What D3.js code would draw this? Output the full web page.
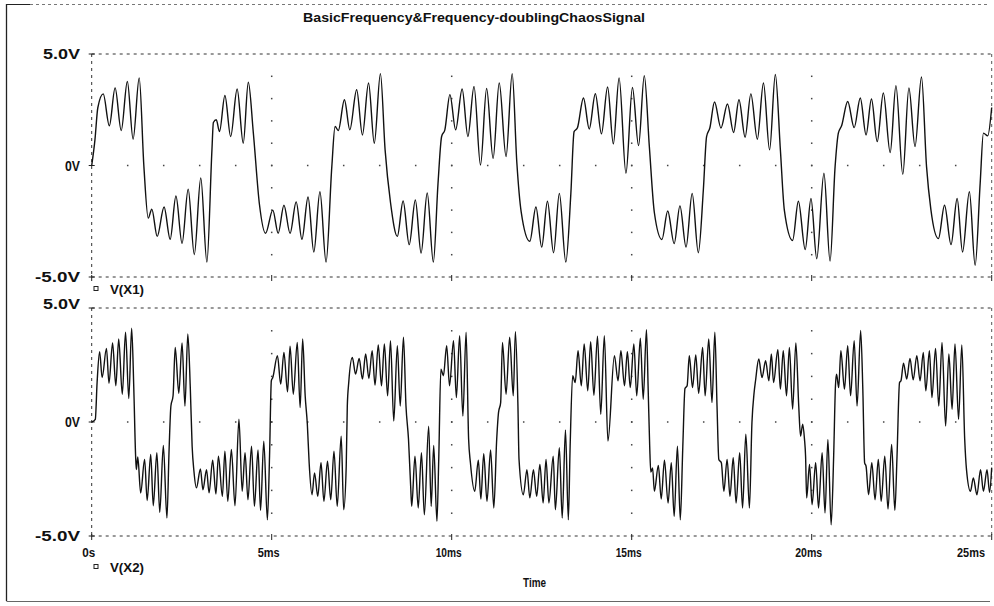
<!DOCTYPE html>
<html>
<head>
<meta charset="utf-8">
<script src="https://cdn.jsdelivr.net/npm/d3@7"></script>
<style>
  html, body { margin: 0; padding: 0; background: #fff; }
  svg { display: block; }
  text { font-family: "Liberation Sans Narrow", "Liberation Sans", "DejaVu Sans", sans-serif; fill: #111; }
</style>
</head>
<body>
<svg id="chart" width="994" height="606"></svg>
<script>
// ---------------- data ----------------
const titleText = "BasicFrequency&Frequency-doublingChaosSignal";
const xAxisTitle = "Time";
const xTicks = [0, 5, 10, 15, 20, 25];
const xTickLabels = ["0s", "5ms", "10ms", "15ms", "20ms", "25ms"];
const yTicks = [5, 0, -5];
const yTickLabels = ["5.0V", "0V", "-5.0V"];
const seriesNames = ["V(X1)", "V(X2)"];

// V(X1): [time ms, volts] — extremes
const x1Points = [
  [0.00,0.00],[0.09,1.15],[0.17,2.59],[0.32,3.21],[0.49,1.78],[0.65,3.48],[0.82,1.57],[0.99,3.77],
  [1.15,1.18],[1.32,3.93],[1.45,-0.05],[1.57,-2.36],[1.67,-1.96],[1.82,-3.18],[2.01,-1.86],[2.18,-3.31],
  [2.34,-1.37],[2.51,-3.49],[2.68,-1.06],[2.85,-3.99],[3.03,-0.56],[3.20,-4.33],[3.34,0.70],[3.38,1.93],
  [3.46,2.05],[3.55,1.52],[3.70,3.14],[3.86,1.30],[4.04,3.43],[4.21,1.00],[4.35,3.73],[4.49,1.46],
  [4.66,-1.75],[4.83,-3.04],[5.03,-2.00],[5.18,-3.04],[5.34,-1.78],[5.51,-3.04],[5.68,-1.63],[5.84,-3.31],
  [6.01,-1.41],[6.17,-3.88],[6.34,-1.18],[6.51,-4.33],[6.67,-0.05],[6.76,1.75],[6.85,1.57],[7.02,2.95],
  [7.17,1.60],[7.36,3.40],[7.52,1.37],[7.69,3.70],[7.85,1.00],[8.02,4.12],[8.15,0.70],[8.30,-1.66],
  [8.49,-3.18],[8.65,-1.59],[8.82,-3.55],[8.99,-1.55],[9.15,-3.93],[9.32,-1.23],[9.49,-4.33],[9.62,-0.80],
  [9.72,1.30],[9.81,1.60],[9.95,3.18],[10.11,1.60],[10.29,3.43],[10.45,1.30],[10.62,3.55],[10.80,0.02],
  [10.97,3.45],[11.15,0.32],[11.32,3.70],[11.51,0.40],[11.68,4.12],[11.81,0.11],[11.93,-2.08],[12.17,-3.40],
  [12.34,-1.86],[12.50,-3.66],[12.66,-1.60],[12.83,-3.91],[12.99,-1.25],[13.17,-4.33],[13.31,-1.25],[13.40,1.52],
  [13.49,1.68],[13.66,3.03],[13.82,1.64],[13.99,3.22],[14.16,1.42],[14.33,3.52],[14.49,0.97],[14.65,3.93],
  [14.84,-0.35],[15.02,3.50],[15.19,0.89],[15.35,4.03],[15.49,0.85],[15.63,-2.12],[15.84,-3.32],[16.00,-2.04],
  [16.18,-3.50],[16.34,-1.81],[16.51,-3.66],[16.68,-1.25],[16.85,-3.91],[16.99,-1.10],[17.08,1.30],[17.17,1.68],
  [17.30,2.85],[17.48,1.68],[17.66,2.76],[17.83,1.48],[17.98,2.95],[18.15,1.27],[18.31,3.21],[18.49,1.18],
  [18.66,3.70],[18.83,0.70],[18.99,4.08],[19.13,0.70],[19.24,-2.00],[19.47,-3.36],[19.63,-1.60],[19.82,-3.77],
  [19.98,-1.48],[20.14,-4.18],[20.34,-0.35],[20.51,-4.29],[20.65,-0.05],[20.74,1.45],[20.83,1.78],[21.00,2.87],
  [21.18,1.70],[21.35,3.03],[21.51,1.37],[21.66,2.98],[21.82,1.07],[21.99,3.25],[22.18,0.58],[22.34,3.58],
  [22.53,-0.40],[22.70,3.48],[22.87,0.85],[23.05,3.97],[23.19,-0.05],[23.31,-1.97],[23.52,-3.28],[23.69,-1.78],
  [23.87,-3.55],[24.04,-1.48],[24.19,-3.88],[24.38,-1.18],[24.54,-4.48],[24.68,-0.79],[24.77,1.45],[24.89,1.33],
  [25.00,2.60]
];

// V(X2): [time ms, volts] — extremes
const x2Points = [
  [0.00,0.00],[0.10,0.12],[0.15,1.73],[0.22,3.08],[0.29,1.95],[0.41,3.23],[0.48,1.70],[0.58,3.47],
  [0.67,1.59],[0.75,3.64],[0.85,1.22],[0.94,3.94],[1.03,1.03],[1.11,4.11],[1.17,1.44],[1.22,-1.50],
  [1.24,-2.09],[1.28,-1.53],[1.36,-3.11],[1.47,-1.64],[1.54,-3.44],[1.64,-1.42],[1.71,-3.67],[1.81,-1.35],
  [1.89,-3.96],[1.99,-1.03],[2.09,-4.21],[2.15,-1.20],[2.20,0.70],[2.26,1.15],[2.32,3.27],[2.42,1.26],
  [2.51,3.47],[2.59,0.70],[2.67,3.86],[2.74,1.44],[2.79,-1.06],[2.84,-2.16],[2.91,-2.89],[3.02,-2.06],
  [3.09,-2.97],[3.19,-2.09],[3.26,-3.11],[3.36,-1.67],[3.45,-3.16],[3.52,-1.50],[3.63,-3.26],[3.70,-1.28],
  [3.78,-3.48],[3.88,-1.20],[3.98,-3.67],[4.09,0.12],[4.18,-3.04],[4.26,-1.35],[4.34,-3.41],[4.44,-1.06],
  [4.52,-3.70],[4.62,-1.23],[4.69,-3.88],[4.78,-0.84],[4.88,-4.29],[4.94,-1.50],[4.99,1.81],[5.03,1.95],
  [5.16,2.91],[5.25,1.66],[5.34,3.05],[5.44,1.32],[5.51,3.32],[5.60,1.22],[5.71,3.49],[5.79,0.63],
  [5.86,3.64],[5.93,1.15],[5.99,-0.10],[6.04,-1.79],[6.12,-3.19],[6.19,-2.23],[6.28,-3.26],[6.37,-1.79],
  [6.45,-3.48],[6.55,-1.72],[6.64,-3.41],[6.73,-1.28],[6.82,-3.70],[6.93,-0.62],[7.00,-3.85],[7.07,-1.94],
  [7.10,0.70],[7.14,1.73],[7.24,2.83],[7.33,2.10],[7.43,2.79],[7.52,1.88],[7.61,2.98],[7.70,1.91],
  [7.79,3.13],[7.87,1.62],[7.96,3.38],[8.05,1.59],[8.13,3.42],[8.22,1.15],[8.30,3.57],[8.39,0.04],
  [8.49,3.35],[8.57,0.70],[8.66,3.72],[8.73,0.70],[8.80,-0.76],[8.86,-2.82],[8.89,-3.70],[8.98,-1.50],
  [9.07,-3.77],[9.16,-1.35],[9.24,-4.07],[9.36,-0.18],[9.43,-3.70],[9.50,-1.03],[9.59,-4.36],[9.64,-1.64],
  [9.70,2.32],[9.77,2.03],[9.86,3.35],[9.94,1.59],[10.05,3.57],[10.13,1.07],[10.22,3.79],[10.31,0.26],
  [10.40,3.94],[10.47,-0.76],[10.52,-1.79],[10.64,-3.04],[10.74,-1.67],[10.81,-3.38],[10.89,-1.39],[10.98,-3.48],
  [11.08,-1.23],[11.17,-3.77],[11.25,-0.76],[11.30,0.41],[11.36,0.85],[11.41,3.49],[11.51,1.22],[11.61,3.72],
  [11.71,1.15],[11.77,3.96],[11.84,0.70],[11.87,-1.64],[11.99,-3.19],[12.09,-2.09],[12.17,-3.33],[12.27,-2.09],
  [12.36,-3.26],[12.45,-1.86],[12.54,-3.55],[12.62,-1.64],[12.70,-3.55],[12.82,-1.50],[12.88,-3.85],[12.99,-1.13],
  [13.07,-4.21],[13.16,-0.35],[13.24,-4.29],[13.29,-1.06],[13.36,2.03],[13.43,1.73],[13.51,3.13],[13.60,1.59],
  [13.68,3.42],[13.78,1.37],[13.86,3.52],[13.95,1.17],[14.05,3.76],[14.14,0.34],[14.24,3.79],[14.34,-0.84],
  [14.52,2.91],[14.62,1.81],[14.70,3.13],[14.80,1.59],[14.88,3.08],[14.96,1.51],[15.06,3.42],[15.14,1.15],
  [15.24,3.67],[15.32,1.00],[15.41,4.05],[15.46,1.29],[15.50,-1.06],[15.53,-2.20],[15.58,-2.01],[15.63,-3.04],
  [15.74,-1.91],[15.82,-3.38],[15.91,-1.67],[16.01,-3.55],[16.10,-1.79],[16.18,-4.14],[16.27,-1.06],[16.35,-4.29],
  [16.42,-1.06],[16.48,1.47],[16.54,1.59],[16.60,2.91],[16.69,1.51],[16.78,2.94],[16.86,1.26],[16.97,3.27],
  [17.04,1.15],[17.14,3.64],[17.23,0.85],[17.31,3.94],[17.37,0.70],[17.42,-1.64],[17.49,-1.79],[17.56,-3.04],
  [17.65,-1.64],[17.73,-3.26],[17.82,-1.57],[17.90,-3.55],[18.00,-1.35],[18.08,-3.77],[18.17,-0.54],[18.27,-3.77],
  [18.34,-0.03],[18.40,1.29],[18.44,1.81],[18.53,2.76],[18.62,1.95],[18.72,2.69],[18.81,1.81],[18.88,2.98],
  [18.94,1.73],[19.06,3.17],[19.13,1.44],[19.21,3.13],[19.30,1.15],[19.38,3.27],[19.47,0.56],[19.56,3.47],
  [19.64,0.70],[19.69,-0.62],[19.75,-0.10],[19.80,-0.76],[19.83,-1.50],[19.86,-3.33],[19.94,-1.86],[20.01,-3.63],
  [20.11,-1.79],[20.19,-3.77],[20.29,-1.35],[20.37,-3.99],[20.45,-0.76],[20.54,-4.51],[20.61,-1.50],[20.66,1.59],
  [20.69,2.10],[20.75,1.51],[20.81,3.13],[20.91,1.44],[21.00,3.35],[21.08,1.15],[21.18,3.57],[21.26,0.70],
  [21.36,4.01],[21.42,1.44],[21.47,-1.79],[21.51,-1.94],[21.58,-3.19],[21.67,-1.79],[21.76,-3.41],[21.85,-1.64],
  [21.93,-3.48],[22.03,-1.50],[22.12,-3.82],[22.22,-0.98],[22.31,-3.88],[22.37,-1.50],[22.44,1.73],[22.48,1.81],
  [22.55,2.58],[22.64,1.88],[22.73,2.79],[22.82,1.85],[22.92,2.91],[23.01,1.81],[23.10,3.05],[23.17,1.37],
  [23.27,3.13],[23.34,1.07],[23.44,3.23],[23.53,0.70],[23.62,3.49],[23.72,-0.18],[23.81,2.98],[23.90,0.56],
  [23.98,3.42],[24.08,0.12],[24.17,3.38],[24.25,-0.76],[24.30,-2.09],[24.41,-3.04],[24.49,-2.45],[24.59,-3.19],
  [24.69,-2.09],[24.77,-3.04],[24.87,-2.09],[24.94,-3.08],[25.00,-2.00]
];

// ---------------- drawing ----------------
const svg = d3.select("#chart");
const plotLeft = 91.7, plotRight = 991.7;
const x = d3.scaleLinear().domain([0, 25]).range([plotLeft, plotRight]);

const panels = [
  { data: x1Points, name: seriesNames[0], top: 54, bottom: 277, legendY: 289 },
  { data: x2Points, name: seriesNames[1], top: 308, bottom: 536, legendY: 567 }
];

// outer frame
svg.append("line").attr("x1", 6.5).attr("x2", 6.5).attr("y1", 4).attr("y2", 601)
  .attr("stroke", "#222").attr("stroke-width", 1.3);
svg.append("line").attr("x1", 6.5).attr("x2", 30).attr("y1", 4.5).attr("y2", 4.5)
  .attr("stroke", "#222").attr("stroke-width", 1);
svg.append("line").attr("x1", 30).attr("x2", 990).attr("y1", 4.5).attr("y2", 4.5)
  .attr("stroke", "#777").attr("stroke-width", 1).attr("stroke-dasharray", "3,3");
svg.append("line").attr("x1", 6.5).attr("x2", 990).attr("y1", 601.5).attr("y2", 601.5)
  .attr("stroke", "#666").attr("stroke-width", 1);

// title
svg.append("text").attr("x", 303).attr("y", 22)
  .attr("font-size", 13.5).attr("font-weight", "bold")
  .attr("textLength", 342).attr("lengthAdjust", "spacingAndGlyphs")
  .text(titleText);

panels.forEach(p => {
  const y = d3.scaleLinear().domain([-5, 5]).range([p.bottom, p.top]);
  const g = svg.append("g");

  // dotted grid: 0V row (dots each ms) and columns at major ticks (dots each volt)
  const msDots = d3.range(1, 25);
  g.selectAll(".hdot").data(msDots).enter().append("rect")
    .attr("x", d => x(d) - 0.75).attr("y", y(0) - 0.75).attr("width", 1.5).attr("height", 1.5)
    .attr("fill", "#444");
  const vCols = xTicks.filter(t => t > 0 && t < 25);
  const volts = d3.range(-4, 5);
  vCols.forEach(t => {
    g.selectAll(null).data(volts).enter().append("rect")
      .attr("x", x(t) - 0.75).attr("y", d => y(d) - 0.75).attr("width", 1.5).attr("height", 1.5)
      .attr("fill", "#444");
  });

  // frame (dashed)
  const dash = "3,4";
  g.append("line").attr("x1", x(0)).attr("x2", x(25)).attr("y1", y(5)).attr("y2", y(5))
    .attr("stroke", "#333").attr("stroke-dasharray", dash);
  g.append("line").attr("x1", x(0)).attr("x2", x(25)).attr("y1", y(-5)).attr("y2", y(-5))
    .attr("stroke", "#333").attr("stroke-dasharray", dash);
  g.append("line").attr("x1", x(0)).attr("x2", x(0)).attr("y1", y(5)).attr("y2", y(-5))
    .attr("stroke", "#333").attr("stroke-dasharray", dash);
  g.append("line").attr("x1", x(25)).attr("x2", x(25)).attr("y1", y(5)).attr("y2", y(-5))
    .attr("stroke", "#555").attr("stroke-dasharray", dash);

  // x ticks on bottom border
  g.selectAll(".xt").data(xTicks).enter().append("line")
    .attr("x1", d => x(d)).attr("x2", d => x(d))
    .attr("y1", y(-5) - 2).attr("y2", y(-5) + 4)
    .attr("stroke", "#222");
  // left axis tick marks
  g.selectAll(".yt").data(yTicks).enter().append("line")
    .attr("x1", x(0) - 3).attr("x2", x(0) + 3)
    .attr("y1", d => y(d)).attr("y2", d => y(d))
    .attr("stroke", "#222");

  // y labels
  const labW = { "5.0V": 37, "0V": 15, "-5.0V": 45 };
  g.selectAll(".yl").data(yTicks).enter().append("text")
    .attr("x", (d, i) => 80 - labW[yTickLabels[i]])
    .attr("y", d => y(d) + 5 - (d === 5 && p.top > 100 ? 4 : 0))
    .attr("font-size", 14).attr("font-weight", "bold")
    .attr("textLength", (d, i) => labW[yTickLabels[i]]).attr("lengthAdjust", "spacingAndGlyphs")
    .text((d, i) => yTickLabels[i]);

  // waveform
  const line = d3.line().x(d => x(d[0])).y(d => y(d[1])).curve(d3.curveMonotoneX);
  g.append("path").datum(p.data).attr("d", line)
    .attr("fill", "none").attr("stroke", "#111").attr("stroke-width", 1.4)
    .attr("stroke-linejoin", "round");

  // legend
  g.append("rect").attr("x", 94).attr("y", p.legendY - 2.5).attr("width", 4).attr("height", 4)
    .attr("fill", "none").attr("stroke", "#222").attr("stroke-width", 1);
  g.append("text").attr("x", 110).attr("y", p.legendY + 5)
    .attr("font-size", 13.5).attr("font-weight", "bold")
    .attr("textLength", 34).attr("lengthAdjust", "spacingAndGlyphs")
    .text(p.name);
});

// x tick labels (below the second panel)
const tickLabW = [13, 22, 26, 26, 27, 28];
svg.selectAll(".xl").data(xTicks).enter().append("text")
  .attr("x", (d, i) => i === xTicks.length - 1 ? 985 - tickLabW[i] : x(d) - 3 - tickLabW[i] / 2)
  .attr("y", 557)
  .attr("font-size", 13.5).attr("font-weight", "bold")
  .attr("textLength", (d, i) => tickLabW[i]).attr("lengthAdjust", "spacingAndGlyphs")
  .text((d, i) => xTickLabels[i]);

svg.append("text").attr("x", 523).attr("y", 587)
  .attr("font-size", 13).attr("font-weight", "bold")
  .attr("textLength", 23).attr("lengthAdjust", "spacingAndGlyphs")
  .text(xAxisTitle);
</script>
</body>
</html>
